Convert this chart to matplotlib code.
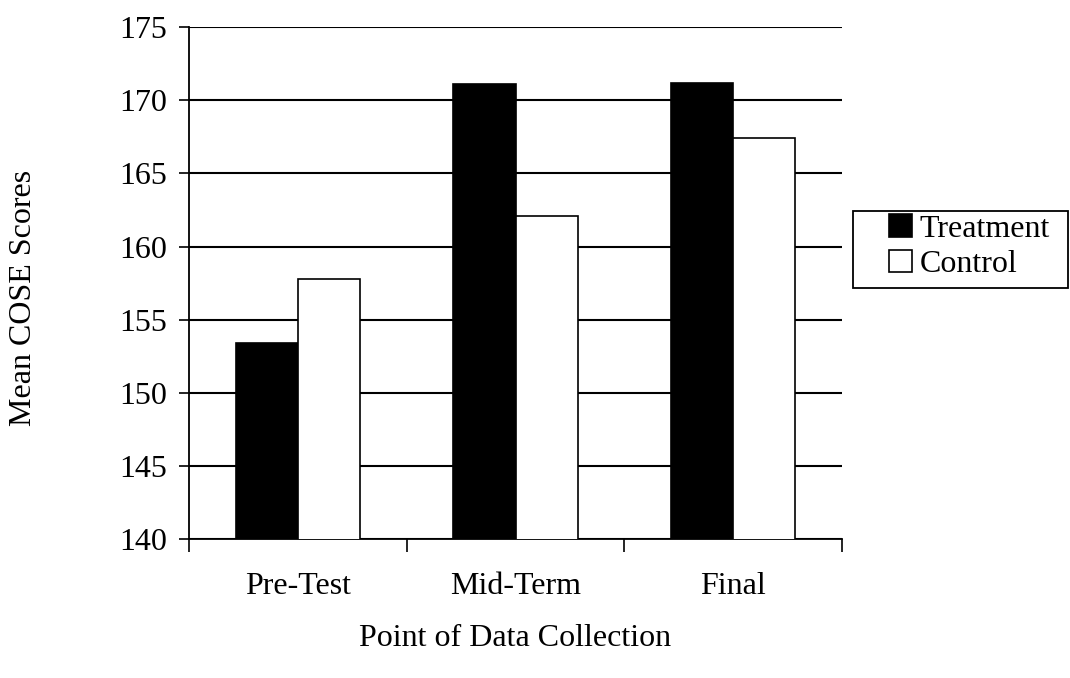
import matplotlib
matplotlib.use("Agg")
import matplotlib.pyplot as plt
from matplotlib.patches import Rectangle
import numpy as np

# data
categories = ["Pre-Test", "Mid-Term", "Final"]
treatment = [153.4, 171.1, 171.2]
control = [157.8, 162.1, 167.4]
y_ticks = [140, 145, 150, 155, 160, 165, 170, 175]

plt.rcParams['font.family'] = ['Liberation Serif', 'DejaVu Serif']
FS = 23

fig = plt.figure(figsize=(10.7, 6.78), dpi=100)
ax = fig.add_axes([0.1766, 0.205, 0.6104, 0.755])

x = np.arange(len(categories))
w = 0.285
ax.bar(x - w / 2, treatment, w, color="black", edgecolor="black", linewidth=1.2,
       label="Treatment", zorder=3)
ax.bar(x + w / 2, control, w, color="white", edgecolor="black", linewidth=1.2,
       label="Control", zorder=3)

ax.set_xlim(-0.5, len(categories) - 0.5)
ax.set_ylim(140, 175)
ax.set_yticks(y_ticks)
ax.set_yticklabels([str(t) for t in y_ticks], fontsize=FS)

# category labels in the middle, tick marks on the borders
ax.set_xticks(x)
ax.set_xticklabels(categories, fontsize=FS)
ax.tick_params(axis="x", which="major", length=0, pad=24)
ax.set_xticks(np.arange(-0.5, len(categories)), minor=True)
ax.tick_params(axis="x", which="minor", length=9, width=1.2, direction="out")
ax.tick_params(axis="y", length=7, width=1.2, direction="out", pad=9)

ax.grid(True, axis="y", color="black", linewidth=1.5, zorder=0)
ax.set_axisbelow(True)
for s in ["top", "right"]:
    ax.spines[s].set_visible(False)
for s in ["left", "bottom"]:
    ax.spines[s].set_linewidth(1.3)

fig.text(0.022, 0.56, "Mean COSE Scores", fontsize=FS, rotation=90,
         ha="center", va="center")
fig.text(0.481, 0.058, "Point of Data Collection", fontsize=FS,
         ha="center", va="center")

# legend without its own frame; the box is drawn separately for the wide left margin
leg = fig.legend(loc="upper left", bbox_to_anchor=(0.831, 0.684), fontsize=FS,
                 frameon=False, handlelength=0.7, handleheight=0.7,
                 handletextpad=0.25, borderpad=0, labelspacing=0.2,
                 borderaxespad=0)
fig.patches.append(Rectangle((853 / 1070, 1 - 288 / 678), 215 / 1070, 77 / 678,
                             transform=fig.transFigure, fill=False,
                             edgecolor="black", linewidth=1.3))

fig.savefig("out.png", dpi=100)
